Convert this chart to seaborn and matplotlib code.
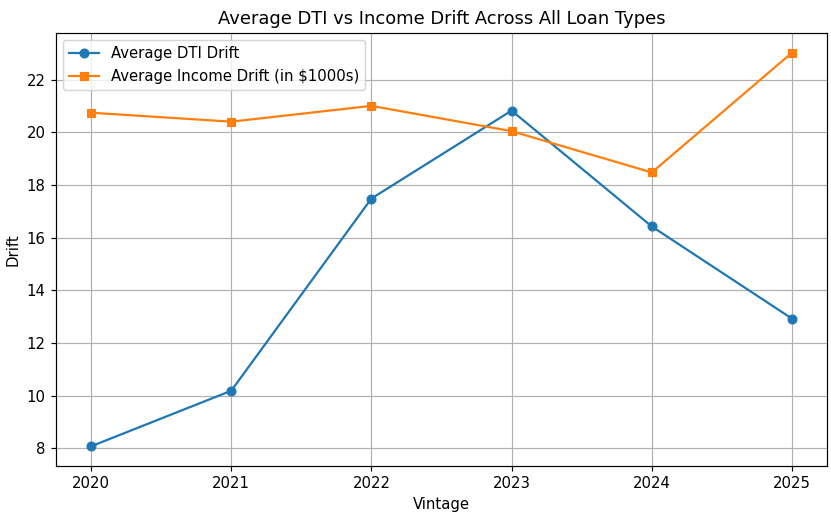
import matplotlib
matplotlib.use("Agg")
import matplotlib.pyplot as plt
import seaborn as sns
import pandas as pd

vintages = [2020, 2021, 2022, 2023, 2024, 2025]
dti_drift = [8.07, 10.18, 17.48, 20.82, 16.42, 12.92]
income_drift = [20.74, 20.40, 21.00, 20.04, 18.47, 23.02]

df = pd.DataFrame({"Vintage": vintages, "dti": dti_drift, "inc": income_drift})

DPI = 107
W, H = 831, 514
fig = plt.figure(figsize=(W / DPI, H / DPI), dpi=DPI)
ax = fig.add_axes([56/W, (H-466)/H, (827-56)/W, (466-33)/H])

sns.lineplot(data=df, x="Vintage", y="dti", marker="o", color="#1f77b4",
             markeredgecolor="#1f77b4", markersize=6, label="Average DTI Drift", ax=ax)
sns.lineplot(data=df, x="Vintage", y="inc", marker="s", color="#ff7f0e",
             markeredgecolor="#ff7f0e", markersize=6,
             label="Average Income Drift (in $1000s)", ax=ax)

ax.set_title("Average DTI vs Income Drift Across All Loan Types", fontsize=12)
ax.set_xlabel("Vintage")
ax.set_ylabel("Drift")
ax.set_xticks(vintages)
ax.set_yticks([8, 10, 12, 14, 16, 18, 20, 22])
ax.grid(True, color="#b0b0b0", linewidth=0.8)
ax.legend(loc="upper left")

fig.savefig("out.png", dpi=DPI)
